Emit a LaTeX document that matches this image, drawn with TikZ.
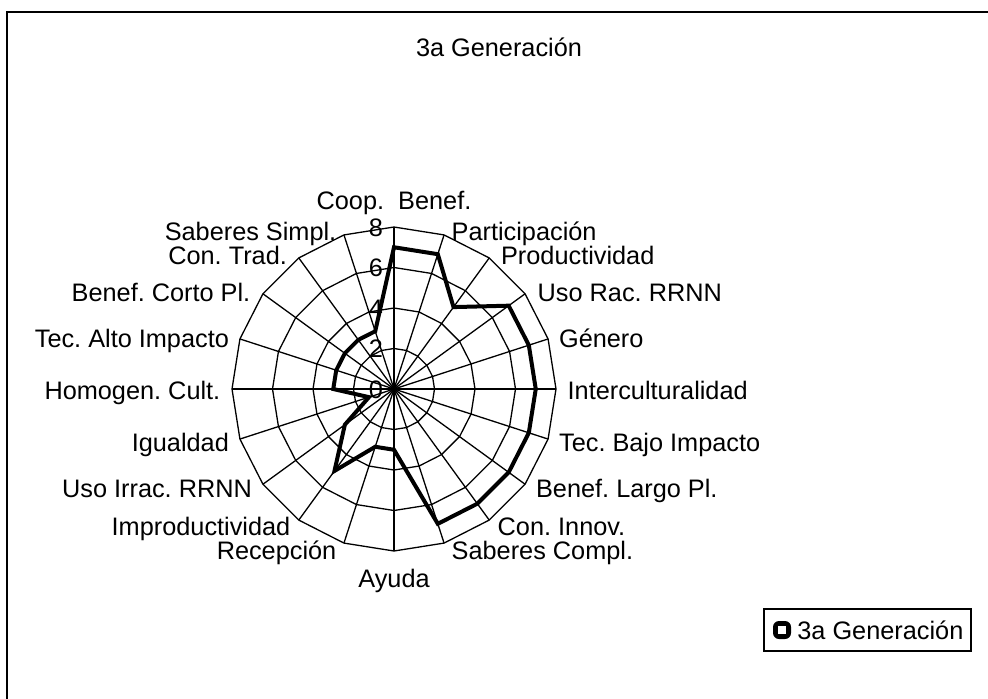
\documentclass[tikz,border=0pt]{standalone}
\usepackage{fontspec}
\setmainfont{Liberation Sans}
\frenchspacing
\begin{document}
\begin{tikzpicture}[x=0.5pt,y=0.5pt]
%define
\tikzstyle{grid} = [black, line width=0.65pt, line join=miter]
\tikzstyle{serie} = [black, line width=2pt, line join=miter]
\tikzstyle{lbl} = [inner sep=0pt, font=\fontsize{12.65}{15}\selectfont]
\tikzstyle{lbll} = [lbl, anchor=base east]
\tikzstyle{lblr} = [lbl, anchor=base west]
\tikzstyle{lblc} = [lbl, anchor=base]

\useasboundingbox (0,0) rectangle (988,698);
\clip (0,0) rectangle (988,698);
%frame
\draw[line width=1pt] (7,686) rectangle (1010,-20);
\node[lblc] (title) at (499,641) {3a Generación};

%chart
\begin{scope}[shift={(394,309)}]
%rings
\foreach \r in {40.5,81,121.5,162}
  \draw[grid] (90:\r) \foreach \k in {1,...,19}{ -- ({90-18*\k}:\r)} -- cycle;
%spokes
\foreach \k in {0,...,19}
  \draw[grid] (0,0) -- ({90-18*\k}:162);
%data
\draw[serie] (90:141.75) \foreach \v [count=\k] in {7,5,7,7,7,7,7,7,7,3,3,5,3,1.3,3,3,3,3,3}{ -- ({90-18*\k}:{\v*20.25})} -- cycle;
%scale
\foreach \v in {0,2,4,6,8}
  \node[lblc] (s\v) at (-18,{\v*20.25-9}) {\v};

%labels
\node[lblc] (coop) at (0,180) {Coop.\ \ Benef.};
\node[lblr] (part) at (57.3,148.3) {Participación};
\node[lblr] (prod) at (106.7,125) {Productividad};
\node[lblr] (usorac) at (143.3,87.3) {Uso Rac. RRNN};
\node[lblr] (gen) at (164.7,41.7) {Género};
\node[lblr] (inter) at (173.3,-10.7) {Interculturalidad};
\node[lblr] (tecbajo) at (164.7,-62.3) {Tec. Bajo Impacto};
\node[lblr] (largo) at (141.7,-108.3) {Benef. Largo Pl.};
\node[lblr] (innov) at (103.3,-146.7) {Con. Innov.};
\node[lblr] (compl) at (57.3,-170) {Saberes Compl.};
\node[lblc] (ayuda) at (0,-198.3) {Ayuda};
\node[lbll] (recep) at (-57.3,-170) {Recepción};
\node[lbll] (improd) at (-103.3,-146.7) {Improductividad};
\node[lbll] (usoirr) at (-141.7,-108.3) {Uso Irrac. RRNN};
\node[lbll] (igual) at (-164.7,-62.3) {Igualdad};
\node[lbll] (homog) at (-173.3,-10.7) {Homogen. Cult.};
\node[lbll] (tecalto) at (-164.7,41.7) {Tec. Alto Impacto};
\node[lbll] (corto) at (-143.3,87.3) {Benef. Corto Pl.};
\node[lbll] (trad) at (-106.7,125) {Con. Trad.};
\node[lbll] (simpl) at (-57.3,148.3) {Saberes Simpl.};
\end{scope}

%legend
\draw[line width=0.6pt] (764,89) rectangle (971,47);
\fill[black, rounded corners=3] (773,59) rectangle (791,77);
\fill[white] (778,64) rectangle (786,72);
\node[lbl, anchor=base west] (leg) at (797,59) {3a Generación};

\end{tikzpicture}
\end{document}
